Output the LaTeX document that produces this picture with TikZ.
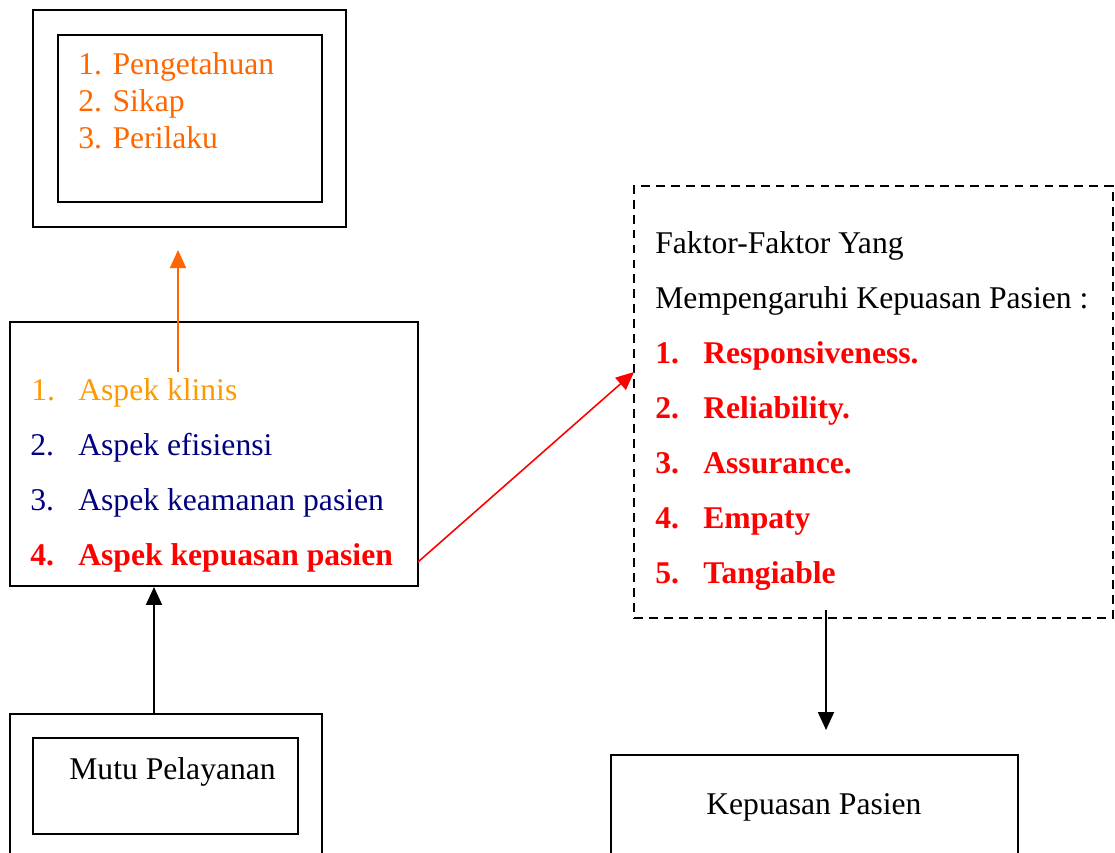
\documentclass[tikz,border=0pt]{standalone}
\usepackage{fontspec}
\setmainfont{Liberation Serif}
\usepackage{tikz}
\usetikzlibrary{positioning, arrows.meta, fit}
\usepackage{xcolor}
\definecolor{deeporange}{RGB}{255,102,0}
\definecolor{amber}{RGB}{255,153,0}
\definecolor{navyblue}{RGB}{0,0,128}
\newcommand{\numbox}[2]{\makebox[#1][l]{#2}}

\begin{document}
\begin{tikzpicture}[x=0.02cm, y=-0.02cm,
    box/.style={draw, line width=1.1pt, inner sep=0pt},
    dashbox/.style={draw, dashed, line width=1.1pt, inner sep=0pt,
                    dash pattern=on 5pt off 3.5pt},
    txt/.style={anchor=base west, inner sep=0pt, font=\fontsize{18}{21}\selectfont},
    boldred/.style={txt, text=red, font=\fontsize{18}{21}\selectfont\bfseries},
    flow/.style={-{Triangle[length=0.36cm, width=0.32cm]}, line width=1.1pt}]
    \useasboundingbox (0,0) rectangle (1115,852);

    \node[box, fit={(33,10) (346,227)}] (knowout) {};
    \node[box, fit={(58,35) (322,202)}] (knowin) {};
    \node[txt, text=deeporange] (k1) at (78,74) {1. Pengetahuan};
    \node[txt, text=deeporange] (k2) at (78,111) {2. Sikap};
    \node[txt, text=deeporange] (k3) at (78,148) {3. Perilaku};

    \node[box, fit={(10,322) (418,586)}] (aspek) {};
    \node[txt, text=amber] (a1) at (31,400) {\numbox{0.94cm}{1.}Aspek klinis};
    \node[txt, text=navyblue] (a2) at (30,455) {\numbox{0.96cm}{2.}Aspek efisiensi};
    \node[txt, text=navyblue] (a3) at (30,510) {\numbox{0.96cm}{3.}Aspek keamanan pasien};
    \node[boldred] (a4) at (30,565) {\numbox{0.96cm}{4.}Aspek kepuasan pasien};

    \node[box, fit={(10,714) (322,870)}] (mutuout) {};
    \node[box, fit={(33,738) (298,834)}] (mutuin) {};
    \node[txt] (mutu) at (69,779) {Mutu Pelayanan};

    \node[dashbox, fit={(634,186) (1113,618)}] (faktor) {};
    \node[txt] (f0) at (655,253) {Faktor-Faktor Yang};
    \node[txt] (f00) at (655,308) {Mempengaruhi Kepuasan Pasien :};
    \node[boldred] (f1) at (655,363) {\numbox{0.96cm}{1.}Responsiveness.};
    \node[boldred] (f2) at (655,418) {\numbox{0.96cm}{2.}Reliability.};
    \node[boldred] (f3) at (655,473) {\numbox{0.96cm}{3.}Assurance.};
    \node[boldred] (f4) at (655,528) {\numbox{0.96cm}{4.}Empaty};
    \node[boldred] (f5) at (655,583) {\numbox{0.96cm}{5.}Tangiable};

    \node[box, fit={(611,755) (1018,870)}] (kepuasan) {};
    \node[txt] (kep) at (706,814) {Kepuasan Pasien};

    \coordinate (klinisup) at (178,372);
    \coordinate (knowtip) at (178,250);
    \coordinate (mutuup) at (154,714);
    \coordinate (kepfrom) at (418,562);
    \coordinate (keptip) at (634,372);
    \coordinate (faktordown) at (826,610);
    \coordinate (kepuasantip) at (826,730);

    \draw[flow, deeporange, line width=0.9pt] (klinisup) -- (knowtip);
    \draw[flow] (mutuup) -- (mutuup |- aspek.south);
    \draw[flow, red, line width=0.9pt] (kepfrom) -- (keptip);
    \draw[flow] (faktordown) -- (kepuasantip);
\end{tikzpicture}
\end{document}
